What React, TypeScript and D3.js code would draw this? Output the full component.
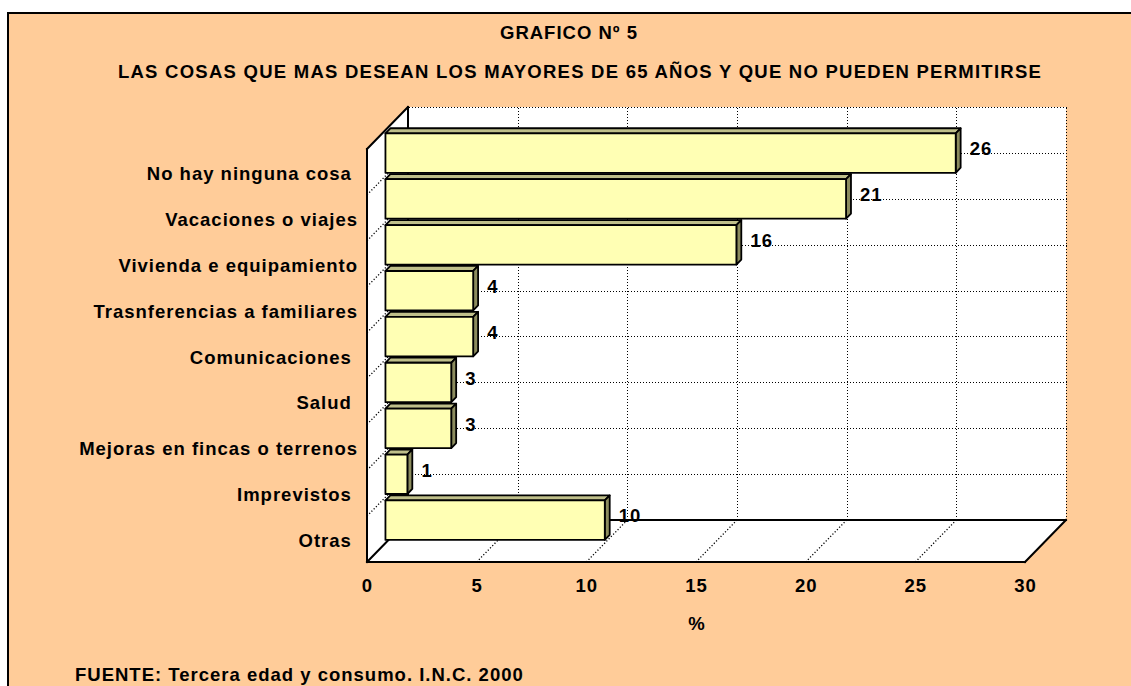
import React from "react";
import * as d3 from "d3";

const categories = [
  "No hay ninguna cosa ",
  "Vacaciones o viajes",
  "Vivienda e equipamiento",
  "Trasnferencias a familiares",
  "Comunicaciones ",
  "Salud ",
  "Mejoras en fincas o terrenos",
  "Imprevistos ",
  "Otras ",
];
const values = [26, 21, 16, 4, 4, 3, 3, 1, 10];
const xTicks = [0, 5, 10, 15, 20, 25, 30];
const title1 = "GRAFICO Nº 5";
const title2 = "LAS COSAS QUE MAS DESEAN LOS MAYORES DE 65 AÑOS Y QUE NO PUEDEN PERMITIRSE";
const axisTitle = "%";
const source = "FUENTE: Tercera edad y consumo. I.N.C. 2000";

const W = 1131;
const H = 686;
const FRONT_TOP = 149;
const FRONT_BOTTOM = 562;
const DX = 41;
const DY = -42;
const BAR_Z0 = 0.45;
const BAR_Z1 = 0.57;

const font = "'Liberation Sans', Arial, sans-serif";
const txt: React.CSSProperties = {
  fontFamily: font,
  fontWeight: 700,
  fontSize: 18.5,
  letterSpacing: 1.0,
  whiteSpace: "pre",
};

export default function App() {
  const x = d3.scaleLinear().domain([0, 30]).range([367, 1025]);
  const y = d3
    .scaleBand<string>()
    .domain(categories)
    .range([FRONT_TOP, FRONT_BOTTOM])
    .paddingInner(0.14)
    .paddingOuter(0.07);
  const step = y.step();
  const yc = (c: number) => FRONT_TOP + c * step;
  const P = (px: number, py: number, z: number): [number, number] => [px + DX * z, py + DY * z];
  const pts = (arr: [number, number][]) => arr.map((p) => p.join(",")).join(" ");
  const snap = (v: number) => Math.round(v) + 0.5;

  const x0 = x(0);
  const x30 = x(30);

  const backWall = pts([P(x0, yc(0), 1), P(x30, yc(0), 1), P(x30, yc(9), 1), P(x0, yc(9), 1)]);
  const leftWall = pts([P(x0, yc(0), 0), P(x0, yc(0), 1), P(x0, yc(9), 1), P(x0, yc(9), 0)]);
  const floor = pts([P(x0, yc(9), 0), P(x0, yc(9), 1), P(x30, yc(9), 1), P(x30, yc(9), 0)]);

  const dotted = (a: [number, number], b: [number, number], key: string, axisAligned: boolean) => (
    <line
      key={key}
      x1={axisAligned ? snap(a[0]) : a[0]}
      y1={axisAligned ? snap(a[1]) : a[1]}
      x2={axisAligned ? snap(b[0]) : b[0]}
      y2={axisAligned ? snap(b[1]) : b[1]}
      stroke="#000"
      strokeWidth={axisAligned ? 1 : 1.3}
      strokeDasharray={axisAligned ? "1 2" : "1.2 2"}
      shapeRendering={axisAligned ? "crispEdges" : undefined}
    />
  );
  const solid = (a: [number, number], b: [number, number], key: string) => (
    <line key={key} x1={a[0]} y1={a[1]} x2={b[0]} y2={b[1]} stroke="#000" strokeWidth={2} strokeLinecap="square" />
  );

  const cBounds = d3.range(0, 9);

  return (
    <svg
      width={W}
      height={H}
      style={{ position: "absolute", left: 0, top: 0, display: "block" }}
    >
      <rect x={0} y={0} width={W} height={H} fill="#fff" />
      <rect x={8} y={13} width={W + 20} height={H + 20} fill="#FFCC99" stroke="#000" strokeWidth={2} />

      <text x={569} y={39} textAnchor="middle" style={txt}>{title1}</text>
      <text x={580} y={78} textAnchor="middle" style={{ ...txt, letterSpacing: 1.25 }}>{title2}</text>

      {/* walls */}
      <polygon points={backWall} fill="#fff" />
      <polygon points={leftWall} fill="#fff" />
      <polygon points={floor} fill="#fff" />

      {/* back wall grid */}
      {xTicks.slice(1).map((t) => dotted(P(x(t), yc(0), 1), P(x(t), yc(9), 1), "bv" + t, true))}
      {cBounds.map((c) => dotted(P(x0, yc(c), 1), P(x30, yc(c), 1), "bh" + c, true))}
      {/* floor grid */}
      {xTicks.slice(1, -1).map((t) => dotted(P(x(t), yc(9), 0), P(x(t), yc(9), 1), "fd" + t, false))}
      {/* left wall grid */}
      {cBounds.slice(1).map((c) => dotted(P(x0, yc(c), 0), P(x0, yc(c), 1), "ld" + c, false))}

      {/* solid outlines */}
      {solid(P(x0, yc(0), 0), P(x0, yc(9), 0), "s1")}
      {solid(P(x0, yc(0), 0), P(x0, yc(0), 1), "s2")}
      {solid(P(x0, yc(0), 1), P(x0, yc(9), 1), "s3")}
      {solid(P(x0, yc(9), 0), P(x0, yc(9), 1), "s4")}
      {solid(P(x0, yc(9), 1), P(x30, yc(9), 1), "s5")}
      {solid(P(x0, yc(9), 0), P(x30, yc(9), 0), "s6")}
      {solid(P(x30, yc(9), 0), P(x30, yc(9), 1), "s7")}

      {/* bars */}
      {categories.map((cat, i) => {
        const v = values[i];
        const top = y(cat) as number;
        const bot = top + y.bandwidth();
        const xa = x(0);
        const xb = x(v);
        const front = pts([P(xa, top, BAR_Z0), P(xb, top, BAR_Z0), P(xb, bot, BAR_Z0), P(xa, bot, BAR_Z0)]);
        const topFace = pts([P(xa, top, BAR_Z0), P(xa, top, BAR_Z1), P(xb, top, BAR_Z1), P(xb, top, BAR_Z0)]);
        const side = pts([P(xb, top, BAR_Z0), P(xb, top, BAR_Z1), P(xb, bot, BAR_Z1), P(xb, bot, BAR_Z0)]);
        const lp = P(xb, top, BAR_Z0);
        return (
          <g key={cat} stroke="#000" strokeWidth={1.8} strokeLinejoin="round">
            <polygon points={topFace} fill="#BFBF8A" />
            <polygon points={side} fill="#8C8C5E" />
            <polygon points={front} fill="#FFFFB4" />
            <text x={lp[0] + 14} y={lp[1] + 22} stroke="none" style={txt}>{String(v)}</text>
          </g>
        );
      })}

      {/* category labels */}
      {categories.map((cat, i) => (
        <text key={"cl" + i} x={358} y={yc(i + 0.5) + 8} textAnchor="end" style={txt}>{cat}</text>
      ))}

      {/* x ticks */}
      {xTicks.map((t) => (
        <text key={"xt" + t} x={x(t) + 0.5} y={592} textAnchor="middle" style={txt}>{String(t)}</text>
      ))}
      <text x={697} y={630} textAnchor="middle" style={txt}>{axisTitle}</text>

      <text x={75} y={681} style={txt}>{source}</text>
    </svg>
  );
}
